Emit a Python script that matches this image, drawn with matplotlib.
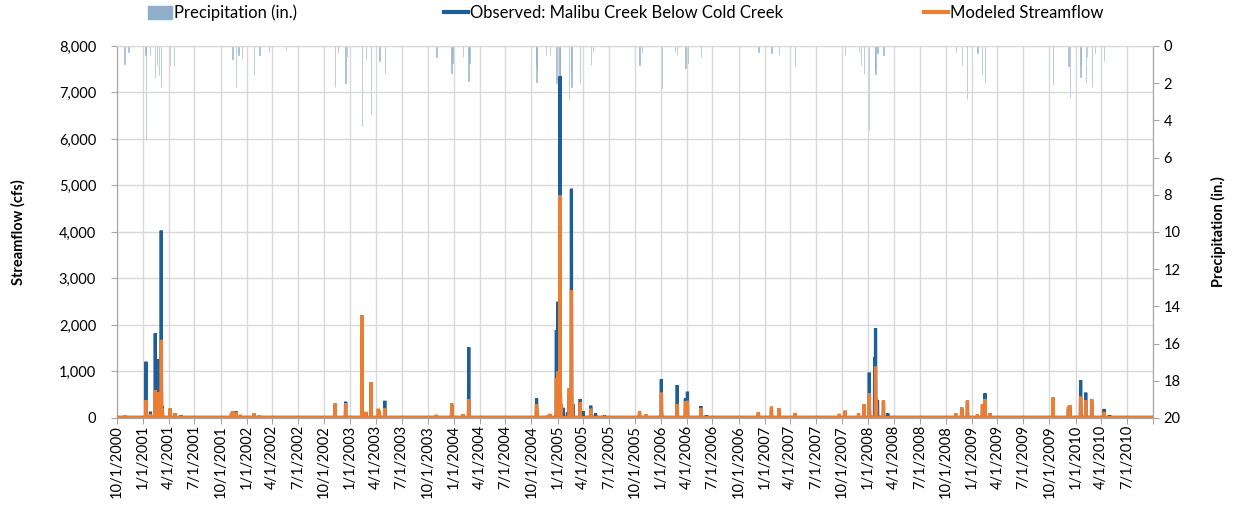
import matplotlib
matplotlib.use("Agg")
import matplotlib.pyplot as plt
import matplotlib.dates as mdates
import matplotlib.ticker as mticker
from matplotlib.lines import Line2D
from matplotlib.patches import Patch
import pandas as pd

plt.rcParams['font.family'] = ['Lato', 'DejaVu Sans']

# ---- data (daily peaks, cfs) ----
obs_dates = ['2000-10-29', '2001-01-11', '2001-01-27', '2001-02-13', '2001-02-14', '2001-02-24',
             '2001-03-06', '2001-03-07', '2001-03-10', '2001-04-07', '2001-04-23', '2001-05-15',
             '2001-11-12', '2001-11-25', '2002-01-28', '2002-11-09', '2002-12-16', '2003-02-12',
             '2003-02-13', '2003-02-25', '2003-03-16', '2003-04-14', '2003-05-03', '2003-11-01',
             '2003-12-25', '2004-02-03', '2004-02-23', '2004-10-19', '2004-10-20', '2004-12-05',
             '2004-12-28', '2005-01-03', '2005-01-10', '2005-01-11', '2005-01-12', '2005-01-20',
             '2005-02-05', '2005-02-11', '2005-02-19', '2005-02-20', '2005-02-25', '2005-03-22',
             '2005-04-01', '2005-04-28', '2005-05-15', '2005-06-15', '2005-10-17', '2006-01-02',
             '2006-01-03', '2006-02-27', '2006-03-28', '2006-04-04', '2006-05-21', '2006-06-10',
             '2006-12-10', '2007-01-25', '2007-02-20', '2007-04-19', '2007-10-12', '2007-12-17',
             '2008-01-05', '2008-01-06', '2008-01-24', '2008-01-27', '2008-01-28', '2008-02-03',
             '2008-02-24', '2008-03-10', '2008-11-26', '2008-12-16', '2009-02-07', '2009-02-16',
             '2009-03-05', '2009-10-14', '2009-12-07', '2009-12-12', '2010-01-19', '2010-01-20',
             '2010-02-06', '2010-02-27', '2010-04-12', '2010-05-01']
obs_values = [50, 1210, 135, 1820, 400, 1270,
              4030, 600, 250, 200, 100, 50,
              120, 140, 100, 300, 350, 2150,
              250, 130, 740, 140, 370, 60,
              290, 80, 1520, 420, 150, 60,
              1890, 2500, 7350, 600, 250, 220,
              120, 500, 4930, 500, 300, 408,
              150, 265, 100, 50, 120, 830,
              150, 710, 420, 565, 258, 60,
              100, 200, 180, 90, 120, 250,
              975, 200, 1300, 1930, 400, 380,
              350, 100, 200, 350, 280, 530,
              100, 420, 200, 250, 817, 300,
              545, 380, 195, 60]
obs_base = 15

mod_dates = ['2000-10-29', '2001-01-11', '2001-01-27', '2001-02-13', '2001-02-24', '2001-03-06',
             '2001-03-07', '2001-03-10', '2001-04-07', '2001-04-23', '2001-11-08', '2001-11-12',
             '2001-11-25', '2001-12-10', '2002-01-28', '2002-02-15', '2002-11-09', '2002-12-16',
             '2003-02-12', '2003-02-25', '2003-03-16', '2003-04-10', '2003-04-14', '2003-05-03',
             '2003-11-01', '2003-12-25', '2004-02-03', '2004-02-23', '2004-10-19', '2004-10-22',
             '2004-11-28', '2004-12-05', '2004-12-28', '2005-01-03', '2005-01-10', '2005-01-11',
             '2005-01-13', '2005-02-11', '2005-02-19', '2005-02-20', '2005-02-23', '2005-03-22',
             '2005-04-28', '2005-10-17', '2005-11-09', '2006-01-02', '2006-02-27', '2006-03-28',
             '2006-04-04', '2006-05-21', '2006-12-10', '2007-01-25', '2007-02-20', '2007-04-19',
             '2007-09-21', '2007-10-12', '2007-11-28', '2007-12-17', '2008-01-05', '2008-01-27',
             '2008-01-30', '2008-02-24', '2008-11-05', '2008-11-26', '2008-12-16', '2009-01-20',
             '2009-02-07', '2009-02-16', '2009-03-05', '2009-10-14', '2009-12-07', '2009-12-12',
             '2010-01-19', '2010-02-06', '2010-02-27', '2010-04-12']
mod_values = [60, 387, 80, 600, 560, 1680,
              500, 200, 215, 100, 100, 150,
              120, 70, 100, 60, 315, 315,
              2215, 130, 770, 200, 160, 215,
              70, 315, 80, 400, 300, 200,
              60, 90, 860, 1000, 4795, 700,
              300, 640, 2750, 600, 300, 340,
              200, 150, 80, 545, 300, 360,
              370, 210, 130, 245, 215, 110,
              90, 160, 100, 300, 530, 1105,
              420, 385, 100, 230, 385, 80,
              300, 410, 100, 445, 245, 280,
              460, 385, 410, 130]
mod_base = 8

precip_dates = ['2000-10-27', '2000-11-10', '2001-01-10', '2001-01-11', '2001-01-25', '2001-02-13',
                '2001-02-20', '2001-02-27', '2001-03-06', '2001-04-06', '2001-04-20', '2001-11-12',
                '2001-11-24', '2001-12-03', '2001-12-15', '2002-01-27', '2002-02-15', '2002-03-20',
                '2002-05-20', '2002-11-08', '2002-11-20', '2002-12-16', '2002-12-20', '2003-02-12',
                '2003-02-25', '2003-03-16', '2003-04-14', '2003-05-03', '2003-11-01', '2003-12-24',
                '2003-12-28', '2004-02-03', '2004-02-22', '2004-02-26', '2004-10-17', '2004-10-19',
                '2004-10-20', '2004-11-21', '2004-12-05', '2004-12-28', '2005-01-03', '2005-01-07',
                '2005-01-08', '2005-01-09', '2005-01-10', '2005-02-11', '2005-02-18', '2005-02-19',
                '2005-03-21', '2005-04-28', '2005-05-05', '2005-10-17', '2005-10-25', '2006-01-02',
                '2006-02-20', '2006-02-27', '2006-03-28', '2006-04-04', '2006-05-21', '2006-12-10',
                '2007-01-25', '2007-02-20', '2007-04-18', '2007-10-12', '2007-11-30', '2007-12-07',
                '2007-12-17', '2008-01-05', '2008-01-24', '2008-01-27', '2008-02-03', '2008-02-24',
                '2008-11-05', '2008-11-26', '2008-12-15', '2009-01-20', '2009-02-06', '2009-02-16',
                '2009-10-13', '2009-12-07', '2009-12-12', '2010-01-18', '2010-01-20', '2010-02-06',
                '2010-02-10', '2010-02-27', '2010-03-10', '2010-04-12']
precip_values = [0.97, 0.3, 0.5, 5.05, 0.5, 1.72,
                 1.0, 1.56, 2.19, 1.0, 1.1, 0.7,
                 2.19, 0.5, 0.7, 1.56, 0.5, 0.3,
                 0.2, 2.19, 0.4, 1.97, 0.6, 4.3,
                 0.7, 3.66, 0.8, 1.43, 0.6, 1.43,
                 0.9, 0.6, 1.86, 0.9, 1.0, 1.92,
                 1.3, 0.5, 0.5, 2.0, 2.5, 2.0,
                 3.5, 4.1, 2.8, 2.9, 1.4, 2.2,
                 2.0, 1.0, 0.3, 1.0, 0.4, 2.27,
                 0.3, 0.5, 1.2, 0.9, 0.6, 0.3,
                 0.4, 0.5, 1.08, 0.5, 0.3, 1.0,
                 1.5, 4.5, 1.3, 1.5, 0.4, 0.5,
                 0.3, 1.0, 2.87, 0.4, 1.56, 2.0,
                 2.1, 1.1, 2.72, 1.65, 1.0, 2.0,
                 0.6, 2.19, 0.4, 0.8]

start, end = pd.Timestamp('2000-10-01'), pd.Timestamp('2010-10-01')
days = pd.date_range(start, end, freq='D')
observed = pd.Series(obs_values, index=pd.to_datetime(obs_dates)).reindex(days).fillna(obs_base)
modeled = pd.Series(mod_values, index=pd.to_datetime(mod_dates)).reindex(days).fillna(mod_base)
precip = pd.Series(precip_values, index=pd.to_datetime(precip_dates))

# ---- figure ----
fig = plt.figure(figsize=(12.38, 5.12), dpi=100)
ax = fig.add_axes([0.0945, 0.1836, 0.8368, 0.7266])
ax2 = ax.twinx()

grid_c = '#D9D9D9'
spine_c = '#A6A6A6'
blue = '#1F5F99'
orange = '#ED7D31'
pcol = '#8EAECB'

# precipitation on the inverted right axis, behind the flows
ax2.bar(precip.index, precip.values, width=1.2, color=pcol, edgecolor=pcol,
        linewidth=0.6, alpha=0.7, zorder=1)
ax2.set_ylim(20, 0)
ax2.yaxis.set_major_locator(mticker.MultipleLocator(2))
ax.set_zorder(ax2.get_zorder() + 1)
ax.patch.set_visible(False)

ax.plot(observed.index, observed.values, color=blue, lw=2.3, zorder=3, solid_joinstyle='miter')
ax.plot(modeled.index, modeled.values, color=orange, lw=2.3, zorder=4, solid_joinstyle='miter')

ax.set_xlim(start, end)
ax.set_ylim(0, 8000)
ax.yaxis.set_major_locator(mticker.MultipleLocator(1000))
ax.yaxis.set_major_formatter(mticker.FuncFormatter(lambda v, p: f'{int(v):,}'))

ax.xaxis.set_major_locator(mdates.MonthLocator(bymonth=[1, 4, 7, 10], bymonthday=1))
ax.xaxis.set_major_formatter(mticker.FuncFormatter(
    lambda v, p: '' if mdates.num2date(v).date() >= end.date()
    else f'{mdates.num2date(v).month}/1/{mdates.num2date(v).year}'))
plt.setp(ax.get_xticklabels(), rotation=90, ha='center')

ax.grid(True, color=grid_c, lw=1.0)
ax.set_axisbelow(True)
for a in (ax, ax2):
    for s in a.spines.values():
        s.set_color(spine_c)
    a.spines['top'].set_color(grid_c)
    a.tick_params(colors=spine_c, labelcolor='black', labelsize=10.5, length=4)
ax.tick_params(axis='x', pad=1)
ax.tick_params(axis='y', pad=11)

ax.set_ylabel('Streamflow (cfs)', fontweight='bold', fontsize=10.5, labelpad=24)
ax2.set_ylabel('Precipitation (in.)', fontweight='bold', fontsize=10.5, labelpad=22)

# legend across the top
leg_font = {'family': 'Lato', 'size': 12}
items = [(Patch(facecolor=pcol, edgecolor=pcol), 'Precipitation (in.)', 0.1195),
         (Line2D([], [], color=blue, lw=3), 'Observed: Malibu Creek Below Cold Creek', 0.3587),
         (Line2D([], [], color=orange, lw=3), 'Modeled Streamflow', 0.7464)]
for h, lab, x0 in items:
    fig.legend([h], [lab], loc='center left', bbox_to_anchor=(x0, 0.975), frameon=False,
               prop=leg_font, handlelength=1.45, handleheight=0.85, handletextpad=0.1,
               borderaxespad=0, borderpad=0)

fig.savefig('out.png', dpi=100)
